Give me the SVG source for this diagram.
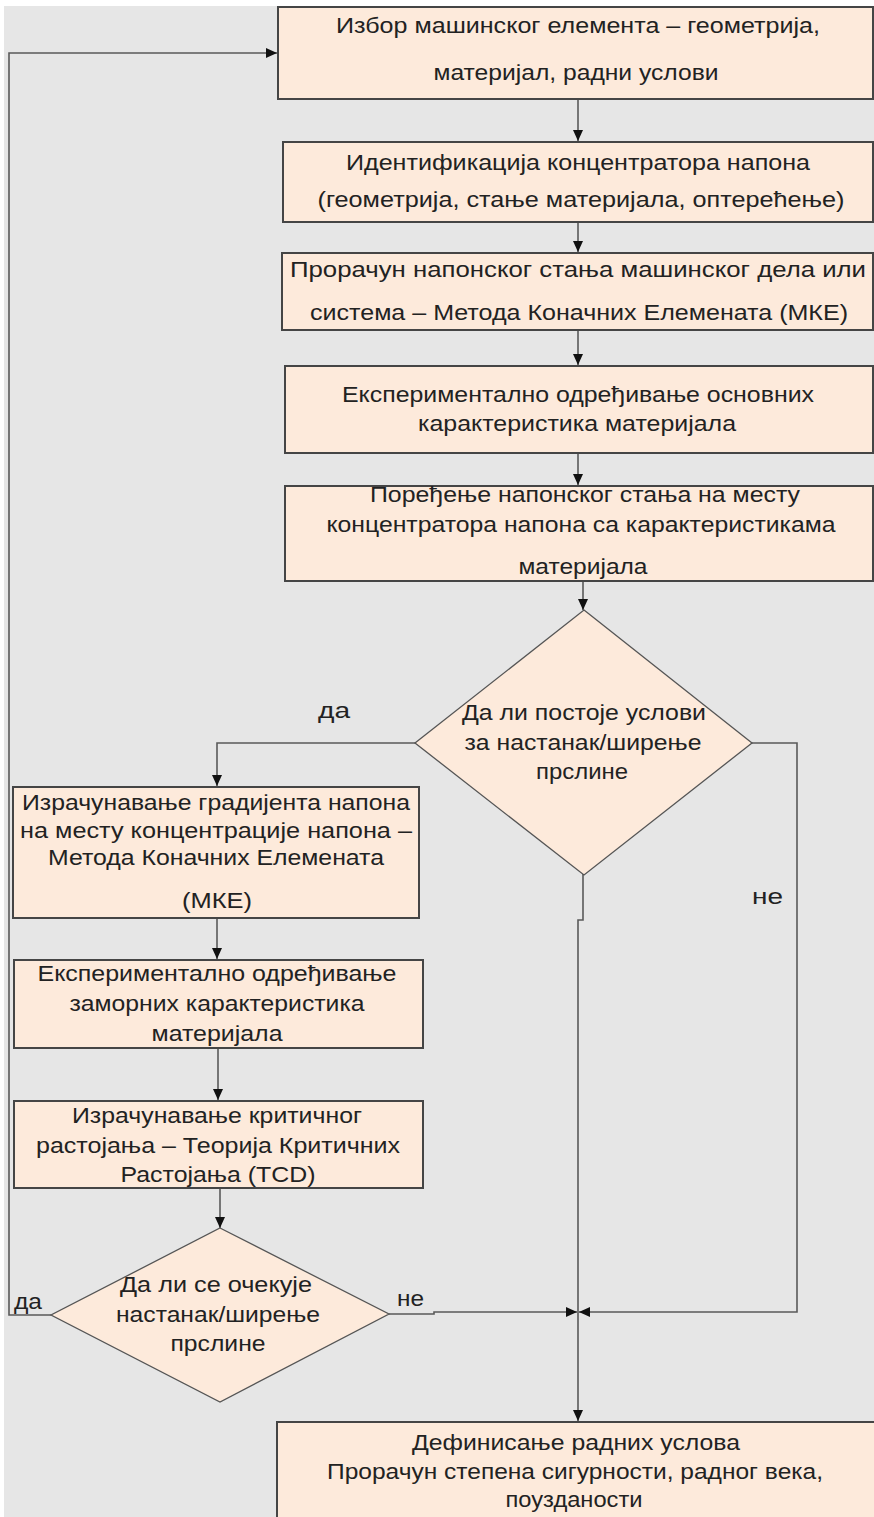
<svg xmlns="http://www.w3.org/2000/svg" width="874" height="1517" viewBox="0 0 874 1517">
  <style>
    .bg { fill: #e6e6e6; }
    .box { fill: #fdeadb; stroke: #454545; stroke-width: 2; }
    .dec { fill: #fdeadb; stroke: #555555; stroke-width: 1.3; }
    .t { font-family: "Liberation Sans", Arial, sans-serif; font-size: 22px; fill: #222222; text-anchor: middle; }
    .lbl { font-family: "Liberation Sans", Arial, sans-serif; font-size: 22px; fill: #222222; }
    .c { fill: none; stroke: #5a5a5a; stroke-width: 1.6; }
  </style>
  <defs>
    <marker id="arr" markerUnits="userSpaceOnUse" markerWidth="12" markerHeight="10" refX="11" refY="5" orient="auto">
      <path d="M0,0 L11,5 L0,10 Z" fill="#111111"/>
    </marker>
  </defs>

  <!-- canvas -->
  <rect x="0" y="0" width="874" height="1517" fill="#ffffff"/>
  <rect class="bg" x="4" y="6" width="870" height="1511"/>

  <!-- connectors -->
  <g id="connectors">
    <path class="c" d="M578,99 V141" marker-end="url(#arr)"/>
    <path class="c" d="M578,222 V252" marker-end="url(#arr)"/>
    <path class="c" d="M578,331 V365" marker-end="url(#arr)"/>
    <path class="c" d="M578,454 V485" marker-end="url(#arr)"/>
    <path class="c" d="M583,582 V610" marker-end="url(#arr)"/>
    <path class="c" d="M415,743 H217 V786" marker-end="url(#arr)"/>
    <path class="c" d="M217,919 V959" marker-end="url(#arr)"/>
    <path class="c" d="M218,1049 V1100" marker-end="url(#arr)"/>
    <path class="c" d="M220,1189 V1228" marker-end="url(#arr)"/>
    <path class="c" d="M51,1315 H9 V53 H277" marker-end="url(#arr)"/>
    <path class="c" d="M389,1314 H434 V1312 H577" marker-end="url(#arr)"/>
    <path class="c" d="M752,743 H797 V1312 H579" marker-end="url(#arr)"/>
    <path class="c" d="M583,874 V920 H578 V1421" marker-end="url(#arr)"/>
  </g>

  <!-- labels on branches -->
  <g id="branch-labels">
    <text class="lbl" x="318" y="718" textLength="32" lengthAdjust="spacingAndGlyphs">да</text>
    <text class="lbl" x="752" y="904" textLength="31" lengthAdjust="spacingAndGlyphs">не</text>
    <text class="lbl" x="14" y="1309" textLength="28" lengthAdjust="spacingAndGlyphs">да</text>
    <text class="lbl" x="397" y="1306" textLength="27" lengthAdjust="spacingAndGlyphs">не</text>
  </g>

  <g id="n1-selection">
    <rect class="box" x="278" y="7" width="595" height="92"/>
    <text class="t" x="578" y="33" textLength="484" lengthAdjust="spacingAndGlyphs">Избор машинског елемента – геометрија,</text>
    <text class="t" x="576" y="80" textLength="285" lengthAdjust="spacingAndGlyphs">материјал, радни услови</text>
  </g>

  <g id="n2-concentrators">
    <rect class="box" x="283" y="142" width="590" height="80"/>
    <text class="t" x="578" y="170" textLength="464" lengthAdjust="spacingAndGlyphs">Идентификација концентратора напона</text>
    <text class="t" x="581" y="207" textLength="527" lengthAdjust="spacingAndGlyphs">(геометрија, стање материјала, оптерећење)</text>
  </g>

  <g id="n3-fem">
    <rect class="box" x="282" y="253" width="591" height="77"/>
    <text class="t" x="578" y="277" textLength="576" lengthAdjust="spacingAndGlyphs">Прорачун напонског стања машинског дела или</text>
    <text class="t" x="579" y="320" textLength="538" lengthAdjust="spacingAndGlyphs">система – Метода Коначних Елемената (МКЕ)</text>
  </g>

  <g id="n4-material">
    <rect class="box" x="285" y="366" width="588" height="87"/>
    <text class="t" x="578" y="402" textLength="472" lengthAdjust="spacingAndGlyphs">Експериментално одређивање основних</text>
    <text class="t" x="577" y="431" textLength="318" lengthAdjust="spacingAndGlyphs">карактеристика материјала</text>
  </g>

  <g id="n5-comparison">
    <rect class="box" x="285" y="486" width="588" height="95"/>
    <text class="t" x="585" y="502" textLength="430" lengthAdjust="spacingAndGlyphs">Поређење напонског стања на месту</text>
    <text class="t" x="581" y="532" textLength="509" lengthAdjust="spacingAndGlyphs">концентратора напона са карактеристикама</text>
    <text class="t" x="583" y="574" textLength="129" lengthAdjust="spacingAndGlyphs">материјала</text>
  </g>

  <g id="d1-crack-conditions">
    <polygon class="dec" points="584,610 752,743 584,875 415,743"/>
    <text class="t" x="584" y="720" textLength="244" lengthAdjust="spacingAndGlyphs">Да ли постоје услови</text>
    <text class="t" x="583" y="750" textLength="237" lengthAdjust="spacingAndGlyphs">за настанак/ширење</text>
    <text class="t" x="582" y="779" textLength="92" lengthAdjust="spacingAndGlyphs">прслине</text>
  </g>

  <g id="n6-gradient">
    <rect class="box" x="13" y="787" width="406" height="131"/>
    <text class="t" x="216" y="810" textLength="388" lengthAdjust="spacingAndGlyphs">Израчунавање градијента напона</text>
    <text class="t" x="216" y="838" textLength="392" lengthAdjust="spacingAndGlyphs">на месту концентрације напона  –</text>
    <text class="t" x="216" y="865" textLength="336" lengthAdjust="spacingAndGlyphs">Метода Коначних Елемената</text>
    <text class="t" x="217" y="908" textLength="70" lengthAdjust="spacingAndGlyphs">(МКЕ)</text>
  </g>

  <g id="n7-fatigue">
    <rect class="box" x="14" y="960" width="409" height="88"/>
    <text class="t" x="217" y="981" textLength="359" lengthAdjust="spacingAndGlyphs">Експериментално одређивање</text>
    <text class="t" x="217" y="1011" textLength="295" lengthAdjust="spacingAndGlyphs">заморних карактеристика</text>
    <text class="t" x="217" y="1041" textLength="131" lengthAdjust="spacingAndGlyphs">материјала</text>
  </g>

  <g id="n8-critical-distance">
    <rect class="box" x="14" y="1101" width="409" height="87"/>
    <text class="t" x="217" y="1123" textLength="290" lengthAdjust="spacingAndGlyphs">Израчунавање критичног</text>
    <text class="t" x="218" y="1153" textLength="364" lengthAdjust="spacingAndGlyphs">растојања – Теорија Критичних</text>
    <text class="t" x="218" y="1182" textLength="195" lengthAdjust="spacingAndGlyphs">Растојања (TCD)</text>
  </g>

  <g id="d2-crack-expected">
    <polygon class="dec" points="220,1228 389,1314 220,1402 51,1315"/>
    <text class="t" x="216" y="1292" textLength="192" lengthAdjust="spacingAndGlyphs">Да ли се очекује</text>
    <text class="t" x="218" y="1322" textLength="204" lengthAdjust="spacingAndGlyphs">настанак/ширење</text>
    <text class="t" x="218" y="1351" textLength="95" lengthAdjust="spacingAndGlyphs">прслине</text>
  </g>

  <g id="n9-operating-conditions">
    <rect class="box" x="277" y="1422" width="599" height="110"/>
    <text class="t" x="576" y="1450" textLength="328" lengthAdjust="spacingAndGlyphs">Дефинисање радних услова</text>
    <text class="t" x="575" y="1479" textLength="496" lengthAdjust="spacingAndGlyphs">Прорачун степена сигурности, радног века,</text>
    <text class="t" x="574" y="1507" textLength="137" lengthAdjust="spacingAndGlyphs">поузданости</text>
  </g>
</svg>
